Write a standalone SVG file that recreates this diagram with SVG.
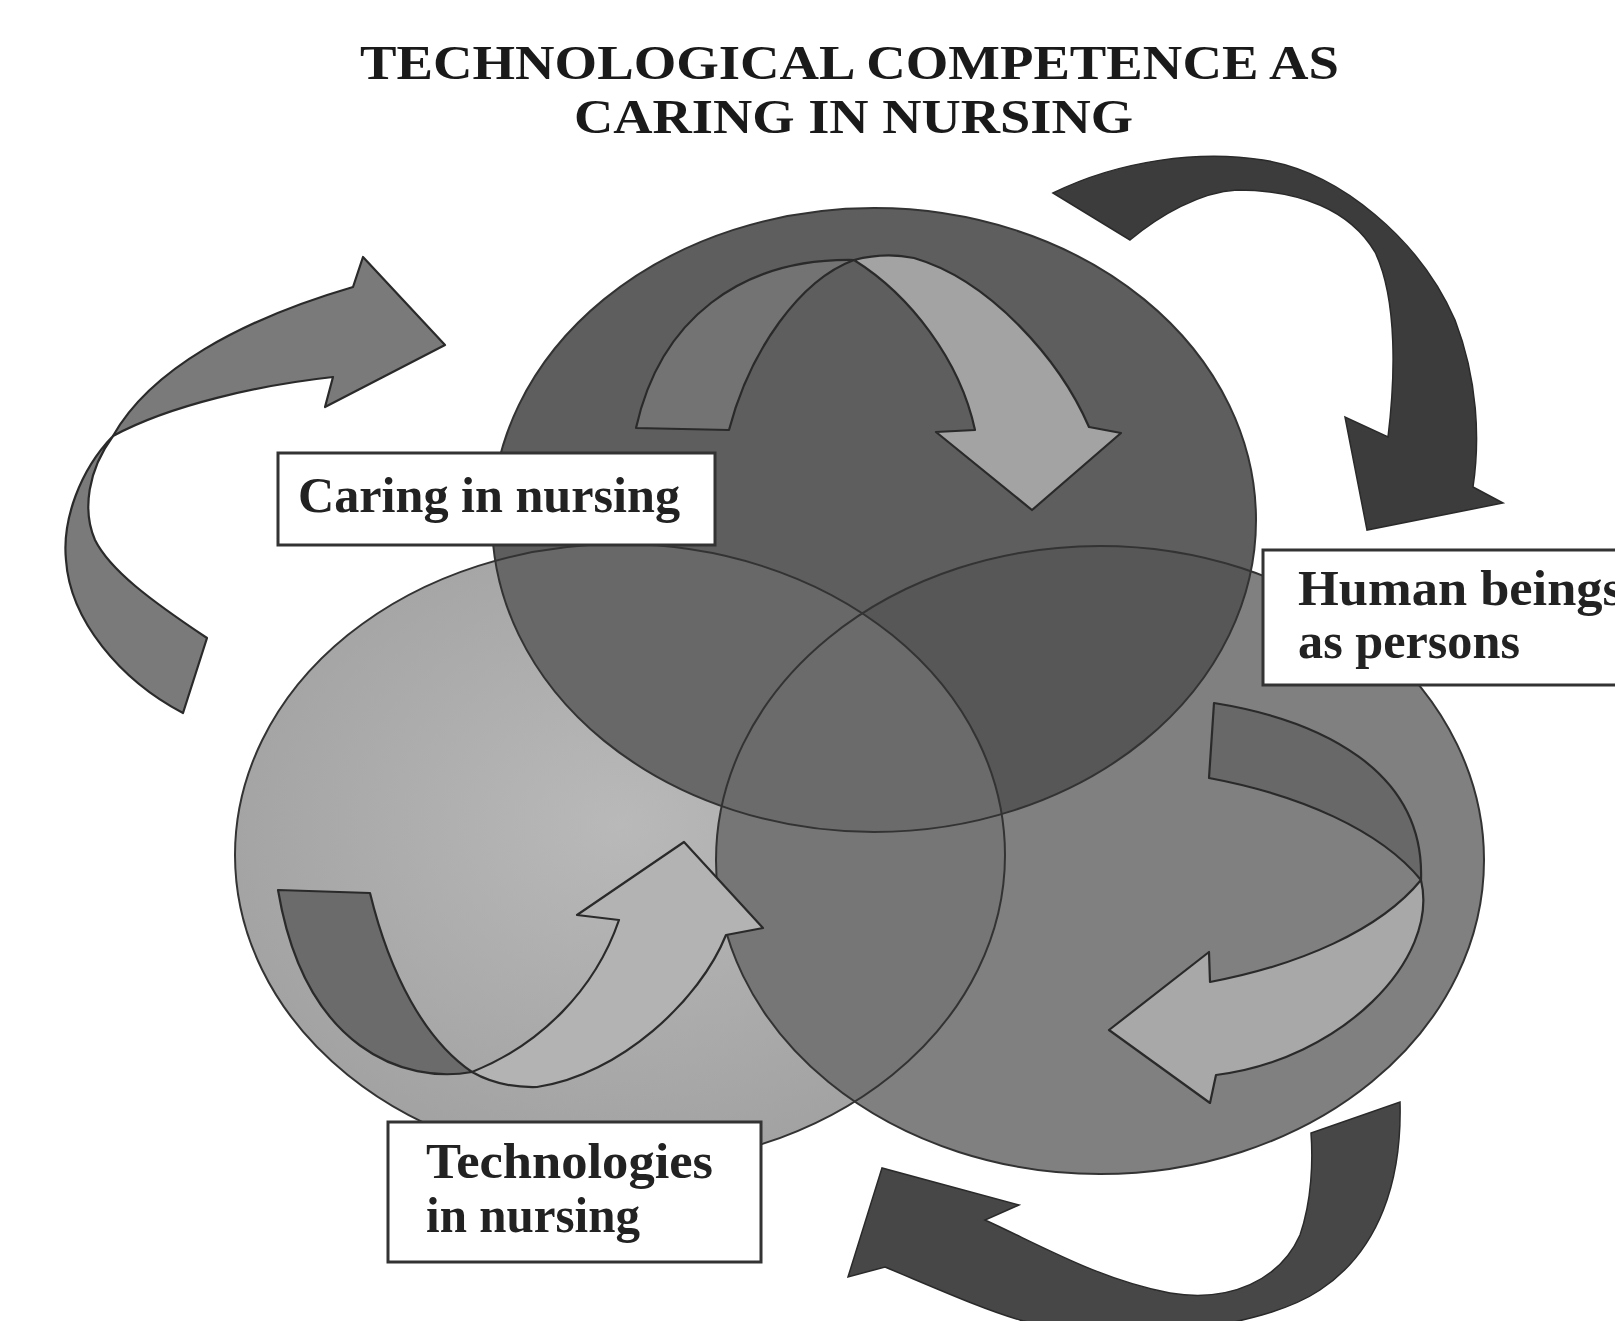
<svg xmlns="http://www.w3.org/2000/svg" width="1615" height="1321" viewBox="0 0 1615 1321">
<style>
.title{font-family:"Liberation Serif","Times New Roman",serif;font-weight:bold;font-size:48px;fill:#1a1a1a}
.lbl{font-family:"Liberation Serif","Times New Roman",serif;font-weight:bold;font-size:50px;fill:#222}
.box{fill:#ffffff;stroke:#333;stroke-width:3}
.outline{fill:none;stroke:#333;stroke-width:2}
.arr{stroke:#2a2a2a;stroke-width:2.2;stroke-linejoin:round}
</style>
<defs>
<ellipse id="eTop" cx="874" cy="520" rx="382" ry="312"/>
<ellipse id="eLeft" cx="620" cy="855" rx="385" ry="311"/>
<ellipse id="eRight" cx="1100" cy="860" rx="384" ry="314"/>
<clipPath id="cLeft"><use href="#eLeft"/></clipPath>
<clipPath id="cRight"><use href="#eRight"/></clipPath>
<radialGradient id="gLeft" cx="0.5" cy="0.45" r="0.6">
<stop offset="0" stop-color="#b9b9b9"/>
<stop offset="1" stop-color="#a0a0a0"/>
</radialGradient>
</defs>
<rect width="1615" height="1321" fill="#ffffff"/>
<g id="title">
<text class="title" x="360" y="79" textLength="979" lengthAdjust="spacingAndGlyphs">TECHNOLOGICAL COMPETENCE AS</text>
<text class="title" x="574" y="133" textLength="559" lengthAdjust="spacingAndGlyphs">CARING IN NURSING</text>
</g>
<g id="node-technologies"><use href="#eLeft" fill="url(#gLeft)"/></g>
<g id="node-human-beings"><use href="#eRight" fill="#808080"/></g>
<g id="node-caring"><use href="#eTop" fill="#5e5e5e"/></g>
<g id="overlaps">
<use href="#eRight" fill="#767676" clip-path="url(#cLeft)"/>
<use href="#eTop" fill="#686868" clip-path="url(#cLeft)"/>
<use href="#eTop" fill="#575757" clip-path="url(#cRight)"/>
<g clip-path="url(#cLeft)"><use href="#eTop" fill="#6b6b6b" clip-path="url(#cRight)"/></g>
</g>
<g id="outlines">
<use href="#eLeft" class="outline"/>
<use href="#eRight" class="outline"/>
<use href="#eTop" class="outline"/>
</g>
<g id="connectors">
<path class="arr" fill="#7a7a7a" d="M113,436 C150,370 240,320 353,287 L363,257 L445,345 L325,407 L333,377 C260,385 170,405 113,436 Z"/>
<path class="arr" fill="#7a7a7a" d="M113,436 C80,470 62,520 66,560 C70,620 120,680 183,713 L207,638 C150,600 110,570 95,540 C82,510 88,470 113,436 Z"/>
<path fill="#3c3c3c" stroke="#2a2a2a" stroke-width="1.5" d="M1053,193 C1120,160 1200,150 1263,160 C1340,172 1420,240 1455,320 C1478,380 1480,440 1473,487 L1503,503 L1367,530 L1345,417 L1388,437 C1395,380 1398,300 1375,252 C1350,210 1300,190 1237,190 C1200,192 1160,215 1130,240 Z"/>
<path fill="#474747" stroke="#2a2a2a" stroke-width="1.5" d="M1400,1102 C1402,1180 1380,1250 1320,1290 C1260,1330 1120,1345 1020,1320 C985,1310 940,1290 885,1267 L848,1277 L882,1168 L1019,1205 L985,1220 C1040,1245 1100,1280 1170,1293 C1230,1303 1280,1280 1300,1235 C1312,1200 1313,1160 1311,1133 Z"/>
<path class="arr" fill="#737373" d="M636,428 C660,320 740,258 854,260 C800,280 750,350 729,430 Z"/>
<path class="arr" fill="#a3a3a3" d="M854,260 Q885,252 914,258 C990,280 1060,360 1089,427 L1121,433 L1032,510 L936,432 L975,430 C960,360 910,295 854,260 Z"/>
<path class="arr" fill="#6b6b6b" d="M278,890 L370,893 C390,975 425,1040 472,1072 C405,1084 305,1050 278,890 Z"/>
<path class="arr" fill="#b3b3b3" d="M472,1072 C540,1045 595,990 619,920 L577,915 L684,842 L763,928 L726,935 C700,1000 620,1075 537,1087 Q500,1088 472,1072 Z"/>
<path class="arr" fill="#686868" d="M1214,703 C1320,720 1425,770 1421,880 C1380,830 1300,795 1209,778 Z"/>
<path class="arr" fill="#a8a8a8" d="M1421,880 C1440,960 1340,1060 1216,1075 L1210,1103 L1109,1030 L1209,952 L1210,982 C1300,965 1380,930 1421,880 Z"/>
</g>
<g id="label-caring">
<rect class="box" x="278" y="453" width="437" height="92"/>
<text class="lbl" x="298" y="512" textLength="382" lengthAdjust="spacingAndGlyphs">Caring in nursing</text>
</g>
<g id="label-human">
<rect class="box" x="1263" y="550" width="370" height="135"/>
<text class="lbl" x="1298" y="605" textLength="325" lengthAdjust="spacingAndGlyphs">Human beings</text>
<text class="lbl" x="1298" y="658" textLength="222" lengthAdjust="spacingAndGlyphs">as persons</text>
</g>
<g id="label-technologies">
<rect class="box" x="388" y="1122" width="373" height="140"/>
<text class="lbl" x="426" y="1178" textLength="287" lengthAdjust="spacingAndGlyphs">Technologies</text>
<text class="lbl" x="426" y="1232" textLength="214" lengthAdjust="spacingAndGlyphs">in nursing</text>
</g>
</svg>
